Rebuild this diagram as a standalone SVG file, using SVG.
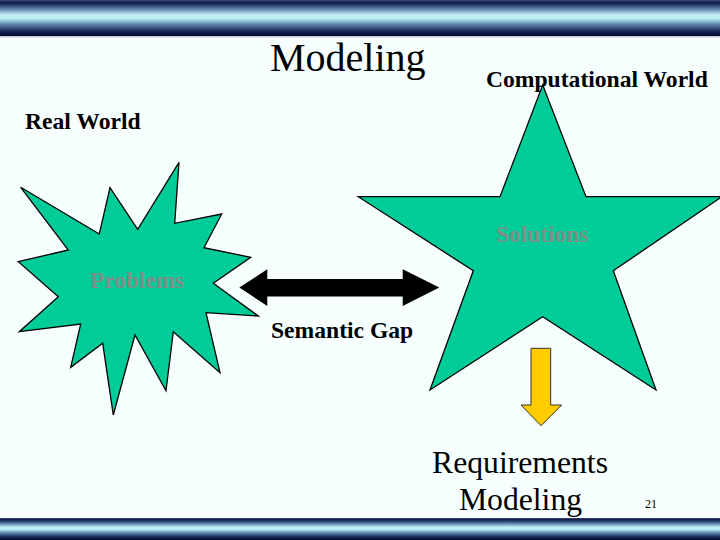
<svg xmlns="http://www.w3.org/2000/svg" width="720" height="540" viewBox="0 0 720 540">
<defs>
<linearGradient id="bar" x1="0" y1="0" x2="0" y2="1">
<stop offset="0" stop-color="#3a4a78"/>
<stop offset="0.08" stop-color="#0c1a48"/>
<stop offset="0.25" stop-color="#5f82aa"/>
<stop offset="0.42" stop-color="#c4f2f8"/>
<stop offset="0.52" stop-color="#b6ecf4"/>
<stop offset="0.68" stop-color="#5c82aa"/>
<stop offset="0.88" stop-color="#14234f"/>
<stop offset="1" stop-color="#020a30"/>
</linearGradient>
<style>
.shape{fill:#00cc99;stroke:#000;stroke-width:1.3;stroke-linejoin:miter}
</style>
</defs>
<rect width="720" height="540" fill="#f6fffe"/>
<rect x="0" y="0" width="720" height="36" fill="url(#bar)"/>
<rect x="0" y="36" width="720" height="1.5" fill="#c8d0d4"/>
<rect x="0" y="518" width="720" height="22" fill="url(#bar)"/>
<g font-family="'Liberation Serif', 'Times New Roman', 'DejaVu Serif', serif">
<g id="title"><text x="270" y="71" font-size="40" fill="#000">Modeling</text></g>
<g id="real-world"><text x="25" y="129" font-size="23.6" font-weight="bold" fill="#000">Real World</text></g>
<g id="computational-world"><text x="486" y="87" font-size="23.6" font-weight="bold" fill="#000">Computational World</text></g>
<g id="problems">
<polygon class="shape" points="20.7,187.3 99.3,234 110,187.7 137.7,229.3 179,162.3 174.7,223.3 221.7,214 204,247.7 250.7,257.3 213.3,283.3 258.3,316 206,312.7 220,372.7 173.3,331.7 166,390.7 135,335 113.3,415 102.7,343.3 70.7,367.3 80.7,324 19.3,331.7 58.3,296.7 18.3,261.7 68.3,250"/>
<text x="90" y="288" font-size="23.4" font-weight="bold" fill="#7f8f88">Problems</text>
</g>
<g id="solutions">
<polygon class="shape" points="542.7,85 586,196.7 722,196.7 613.3,270.7 656,390 542.7,316.7 430,390 473.3,270.7 358.3,196.7 500,196.7"/>
<text x="496" y="242" font-size="23.4" font-weight="bold" fill="#7f8f88">Solutions</text>
</g>
<g id="semantic-gap"><text x="271" y="338" font-size="23.6" font-weight="bold" fill="#000">Semantic Gap</text></g>
<g id="connectors">
<polygon points="239.3,287.5 267.3,269.3 267.3,279 402.7,279 402.7,269.3 439.3,287.5 402.7,306 402.7,296.5 267.3,296.5 267.3,306" fill="#000"/>
<polygon points="531,348.3 550.7,348.3 550.7,405 561.7,405 541,425.7 521,405 531,405" fill="#ffcc00" stroke="#333" stroke-width="1"/>
</g>
<g id="requirements-modeling">
<text x="520" y="473" font-size="31.7" text-anchor="middle" fill="#000">Requirements</text>
<text x="520.5" y="510" font-size="31.7" text-anchor="middle" fill="#000">Modeling</text>
</g>
<g id="page-number"><text x="645" y="508" font-size="12" fill="#000">21</text></g>
</g>
</svg>
